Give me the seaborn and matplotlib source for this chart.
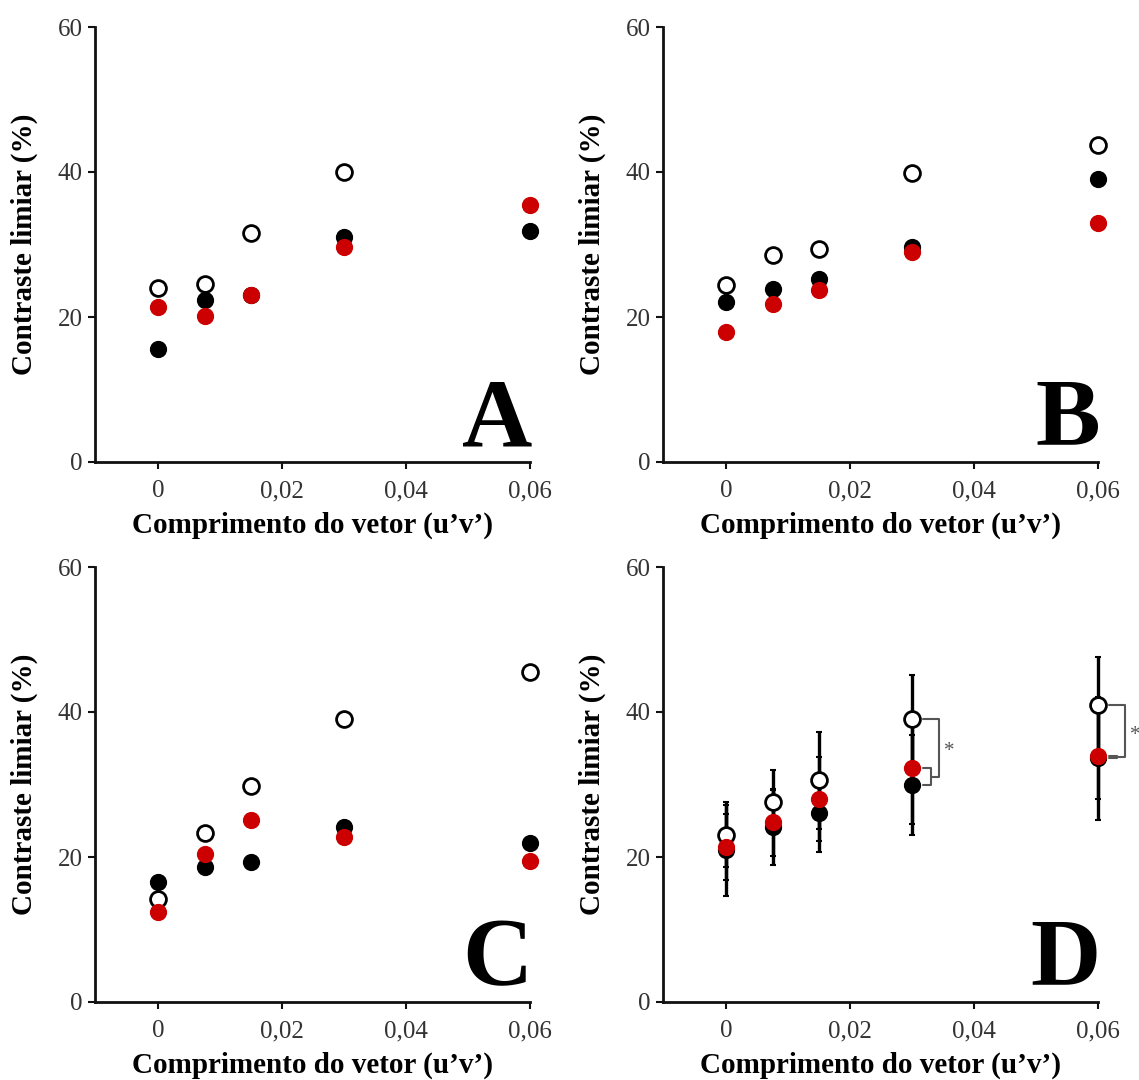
import numpy as np
import pandas as pd
import matplotlib
matplotlib.use("Agg")
import matplotlib.pyplot as plt
import seaborn as sns

# Comprimento do vetor (u'v') testado
vetor = [0.0, 0.0075, 0.015, 0.03, 0.06]

# Painel A
a_brancos = [24.0, 24.6, 31.6, 40.0, np.nan]
a_pretos = [15.6, 22.3, 23.0, 31.0, 31.8]
a_vermelhos = [21.4, 20.1, 23.0, 29.7, 35.4]

# Painel B
b_brancos = [24.4, 28.5, 29.4, 39.8, 43.7]
b_pretos = [22.1, 23.8, 25.3, 29.7, 39.1]
b_vermelhos = [17.9, 21.8, 23.7, 29.0, 32.9]

# Painel C
c_brancos = [14.2, 23.3, 29.8, 39.1, 45.5]
c_pretos = [16.6, 18.6, 19.3, 24.1, 22.0]
c_vermelhos = [12.4, 20.4, 25.1, 22.7, 19.4]

# Painel D (médias e desvios)
d_brancos = [23.1, 27.6, 30.6, 39.1, 40.9]
d_pretos = [20.9, 24.1, 26.1, 29.9, 33.6]
d_vermelhos = [21.4, 24.8, 28.0, 32.3, 33.9]
d_brancos_dp = [4.5, 4.4, 6.7, 6.0, 6.7]
d_pretos_dp = [6.3, 5.2, 5.4, 6.9, 8.5]
d_vermelhos_dp = [4.6, 4.6, 5.8, 7.7, 5.9]

x_ticks = [0.0, 0.02, 0.04, 0.06]
x_ticklabels = ["0", "0,02", "0,04", "0,06"]
y_ticks = [0, 20, 40, 60]
letras = ["A", "B", "C", "D"]

sns.set_theme(style="ticks")
plt.rcParams["font.family"] = ["Liberation Serif", "DejaVu Serif"]
plt.rcParams["text.color"] = "black"
plt.rcParams["axes.labelcolor"] = "black"

VERMELHO = "#cc0000"
estilos = {
    "brancos": dict(facecolor="white", edgecolor="black", linewidth=2.0),
    "pretos": dict(facecolor="black", edgecolor="black", linewidth=1.0),
    "vermelhos": dict(facecolor=VERMELHO, edgecolor=VERMELHO, linewidth=1.0),
}

paineis = [
    (a_brancos, a_pretos, a_vermelhos),
    (b_brancos, b_pretos, b_vermelhos),
    (c_brancos, c_pretos, c_vermelhos),
    (d_brancos, d_pretos, d_vermelhos),
]

fig = plt.figure(figsize=(11.39, 10.80), dpi=100)
W, H = 1139, 1080
caixas = [(95, 27), (663, 27), (95, 567), (663, 567)]
larg, alt = 435, 435

for i, (brancos, pretos, vermelhos) in enumerate(paineis):
    x0, y0 = caixas[i]
    ax = fig.add_axes([x0 / W, 1 - (y0 + alt) / H, larg / W, alt / H])
    df = pd.DataFrame({
        "vetor": vetor * 3,
        "contraste": list(brancos) + list(pretos) + list(vermelhos),
        "grupo": ["brancos"] * 5 + ["pretos"] * 5 + ["vermelhos"] * 5,
    })

    if i == 3:
        for vals, dps in ((d_brancos, d_brancos_dp), (d_pretos, d_pretos_dp),
                          (d_vermelhos, d_vermelhos_dp)):
            eb = ax.errorbar(vetor, vals, yerr=dps, fmt="none", ecolor="black",
                             elinewidth=2.4, capsize=2.5, capthick=1.5,
                             zorder=1)
            for art in eb.lines[1] + eb.lines[2]:
                art.set_clip_on(False)

    for g in ["brancos", "pretos", "vermelhos"]:
        sub = df[df["grupo"] == g].dropna()
        sns.scatterplot(data=sub, x="vetor", y="contraste", ax=ax, s=130,
                        marker="o", zorder=3, legend=False, clip_on=False,
                        **estilos[g])

    if i == 3:
        # colchetes de significância
        cinza = "#555555"
        for k in (3, 4):
            xc = vetor[k]
            yb, yp, yv = d_brancos[k], d_pretos[k], d_vermelhos[k]
            ymeio = (yp + yv) / 2
            xa, xs, xb = xc + 0.0018, xc + 0.0031, xc + 0.0044
            ax.plot([xa, xs, xs, xa], [yv, yv, yp, yp], color=cinza, lw=1.5,
                    zorder=2, clip_on=False)
            ax.plot([xa, xb, xb, xs], [yb, yb, ymeio, ymeio], color=cinza,
                    lw=1.5, zorder=2, clip_on=False)
            ax.text(xb + 0.0007, (yb + ymeio) / 2 - 0.6, "*", color=cinza,
                    fontsize=15, ha="left", va="center", clip_on=False)

    ax.set_xlim(-0.0102, 0.06)
    ax.set_ylim(0, 60)
    ax.set_xticks(x_ticks)
    ax.set_xticklabels(x_ticklabels)
    ax.set_yticks(y_ticks)
    ax.tick_params(axis="both", labelsize=18, length=5, width=1.5,
                   color="#111111", labelcolor="#333333", pad=4)
    ax.tick_params(axis="x", pad=8)
    for s in ("left", "bottom"):
        ax.spines[s].set_linewidth(2.0)
        ax.spines[s].set_color("#111111")
    sns.despine(ax=ax)
    ax.set_facecolor("white")
    ax.set_xlabel("Comprimento do vetor (u’v’)", fontsize=21,
                  fontweight="bold", labelpad=7)
    ax.set_ylabel("Contraste limiar (%)", fontsize=21, fontweight="bold",
                  labelpad=14)
    ax.text(1.005, 0.038, letras[i], transform=ax.transAxes, ha="right",
            va="baseline", fontsize=70, fontweight="bold", color="black")

fig.savefig("out.png", dpi=100, facecolor="white")
